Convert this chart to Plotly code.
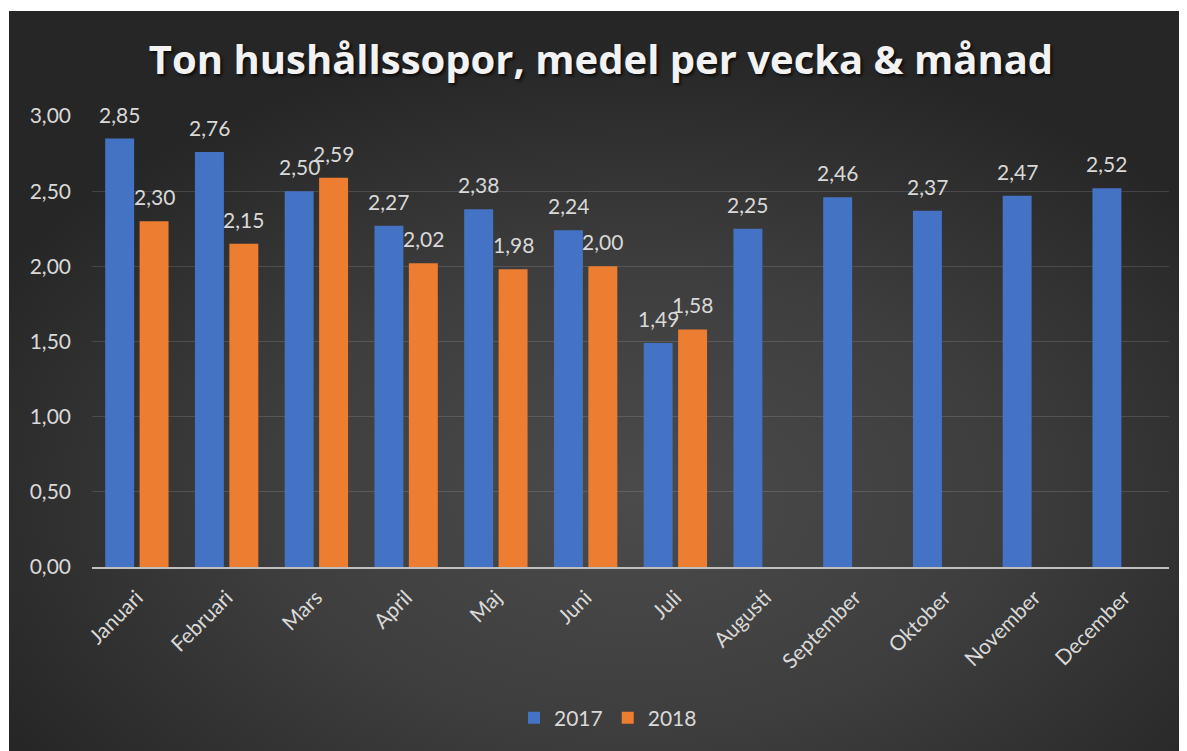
import plotly.graph_objects as go
from urllib.parse import quote

months = ["Januari", "Februari", "Mars", "April", "Maj", "Juni", "Juli",
          "Augusti", "September", "Oktober", "November", "December"]
values_2017 = [2.85, 2.76, 2.50, 2.27, 2.38, 2.24, 1.49, 2.25, 2.46, 2.37, 2.47, 2.52]
values_2018 = [2.30, 2.15, 2.59, 2.02, 1.98, 2.00, 1.58, None, None, None, None, None]
series_names = ["2017", "2018"]
series_colors = ["#4472C4", "#ED7D31"]
y_ticks = [0, 0.5, 1.0, 1.5, 2.0, 2.5, 3.0]

# the page body adds an 8px offset; figure occupies the rest of the window
W, H = 1179, 743
L, R, T, B = 84, 18, 108, 184
pw, ph = W - L - R, H - T - B

label_font = dict(family="Lato, 'Open Sans', sans-serif", size=21, color="#d9d9d9")

fig = go.Figure()
for name, vals, col in zip(series_names, [values_2017, values_2018], series_colors):
    fig.add_trace(go.Bar(x=months, y=vals, name=name, marker=dict(color=col, line=dict(width=0))))

# data labels
shifts = [-17.25, 17.25]
for vals, sh in zip([values_2017, values_2018], shifts):
    for m, v in zip(months, vals):
        if v is None:
            continue
        fig.add_annotation(x=m, y=v, xref="x", yref="y", text=f"{v:.2f}".replace(".", ","),
                           showarrow=False, yanchor="bottom", xshift=sh, yshift=10,
                           font=label_font)

# background radial gradient
svg = ('<svg xmlns="http://www.w3.org/2000/svg" width="1178" height="740" viewBox="0 0 1178 740" '
       'preserveAspectRatio="none"><defs><radialGradient id="g" cx="0.53" cy="0.66" r="0.62">'
       '<stop offset="0" stop-color="#4b4b4b"/><stop offset="0.5" stop-color="#3e3e3e"/>'
       '<stop offset="1" stop-color="#262626"/></radialGradient></defs>'
       '<rect width="1178" height="740" fill="url(#g)"/></svg>')
src = "data:image/svg+xml;charset=utf-8," + quote(svg)
bx, by = 1, 3
fig.add_layout_image(dict(source=src, xref="paper", yref="paper",
                          x=(bx - L) / pw, y=(H - B - by) / ph,
                          sizex=(W - bx) / pw, sizey=(H - by) / ph,
                          xanchor="left", yanchor="top", sizing="stretch", layer="below"))

fig.update_layout(
    width=W, height=H,
    margin=dict(l=L, r=R, t=T, b=B, autoexpand=False),
    paper_bgcolor="white", plot_bgcolor="rgba(0,0,0,0)",
    separators=", ",
    barmode="group", bargap=0.233, bargroupgap=0.159,
    title=dict(text="Ton hushållssopor, medel per vecka & månad",
               x=593 / W, xanchor="center", y=1 - 52 / H, yanchor="middle",
               font=dict(family="'Open Sans', sans-serif", size=40, color="#f2f2f2",
                         weight="bold", shadow="2px 2px 3px rgba(0,0,0,0.7)")),
    legend=dict(orientation="h", x=(600 - L) / pw, xanchor="center",
                y=-(710 - (H - B)) / ph, yanchor="middle",
                font=label_font, bgcolor="rgba(0,0,0,0)"),
    font=label_font,
    showlegend=True,
)
fig.update_xaxes(showline=True, linecolor="#bfbfbf", linewidth=2, tickangle=-45,
                 tickfont=label_font, showgrid=False, ticks="", ticklabelstandoff=8)
fig.update_yaxes(range=[0, 3.0], tickvals=y_ticks, tickformat=".2f", showgrid=True,
                 gridcolor="rgba(255,255,255,0.13)", gridwidth=1, zeroline=False,
                 tickfont=label_font, ticklabelstandoff=20)

fig.write_html("out.html")
